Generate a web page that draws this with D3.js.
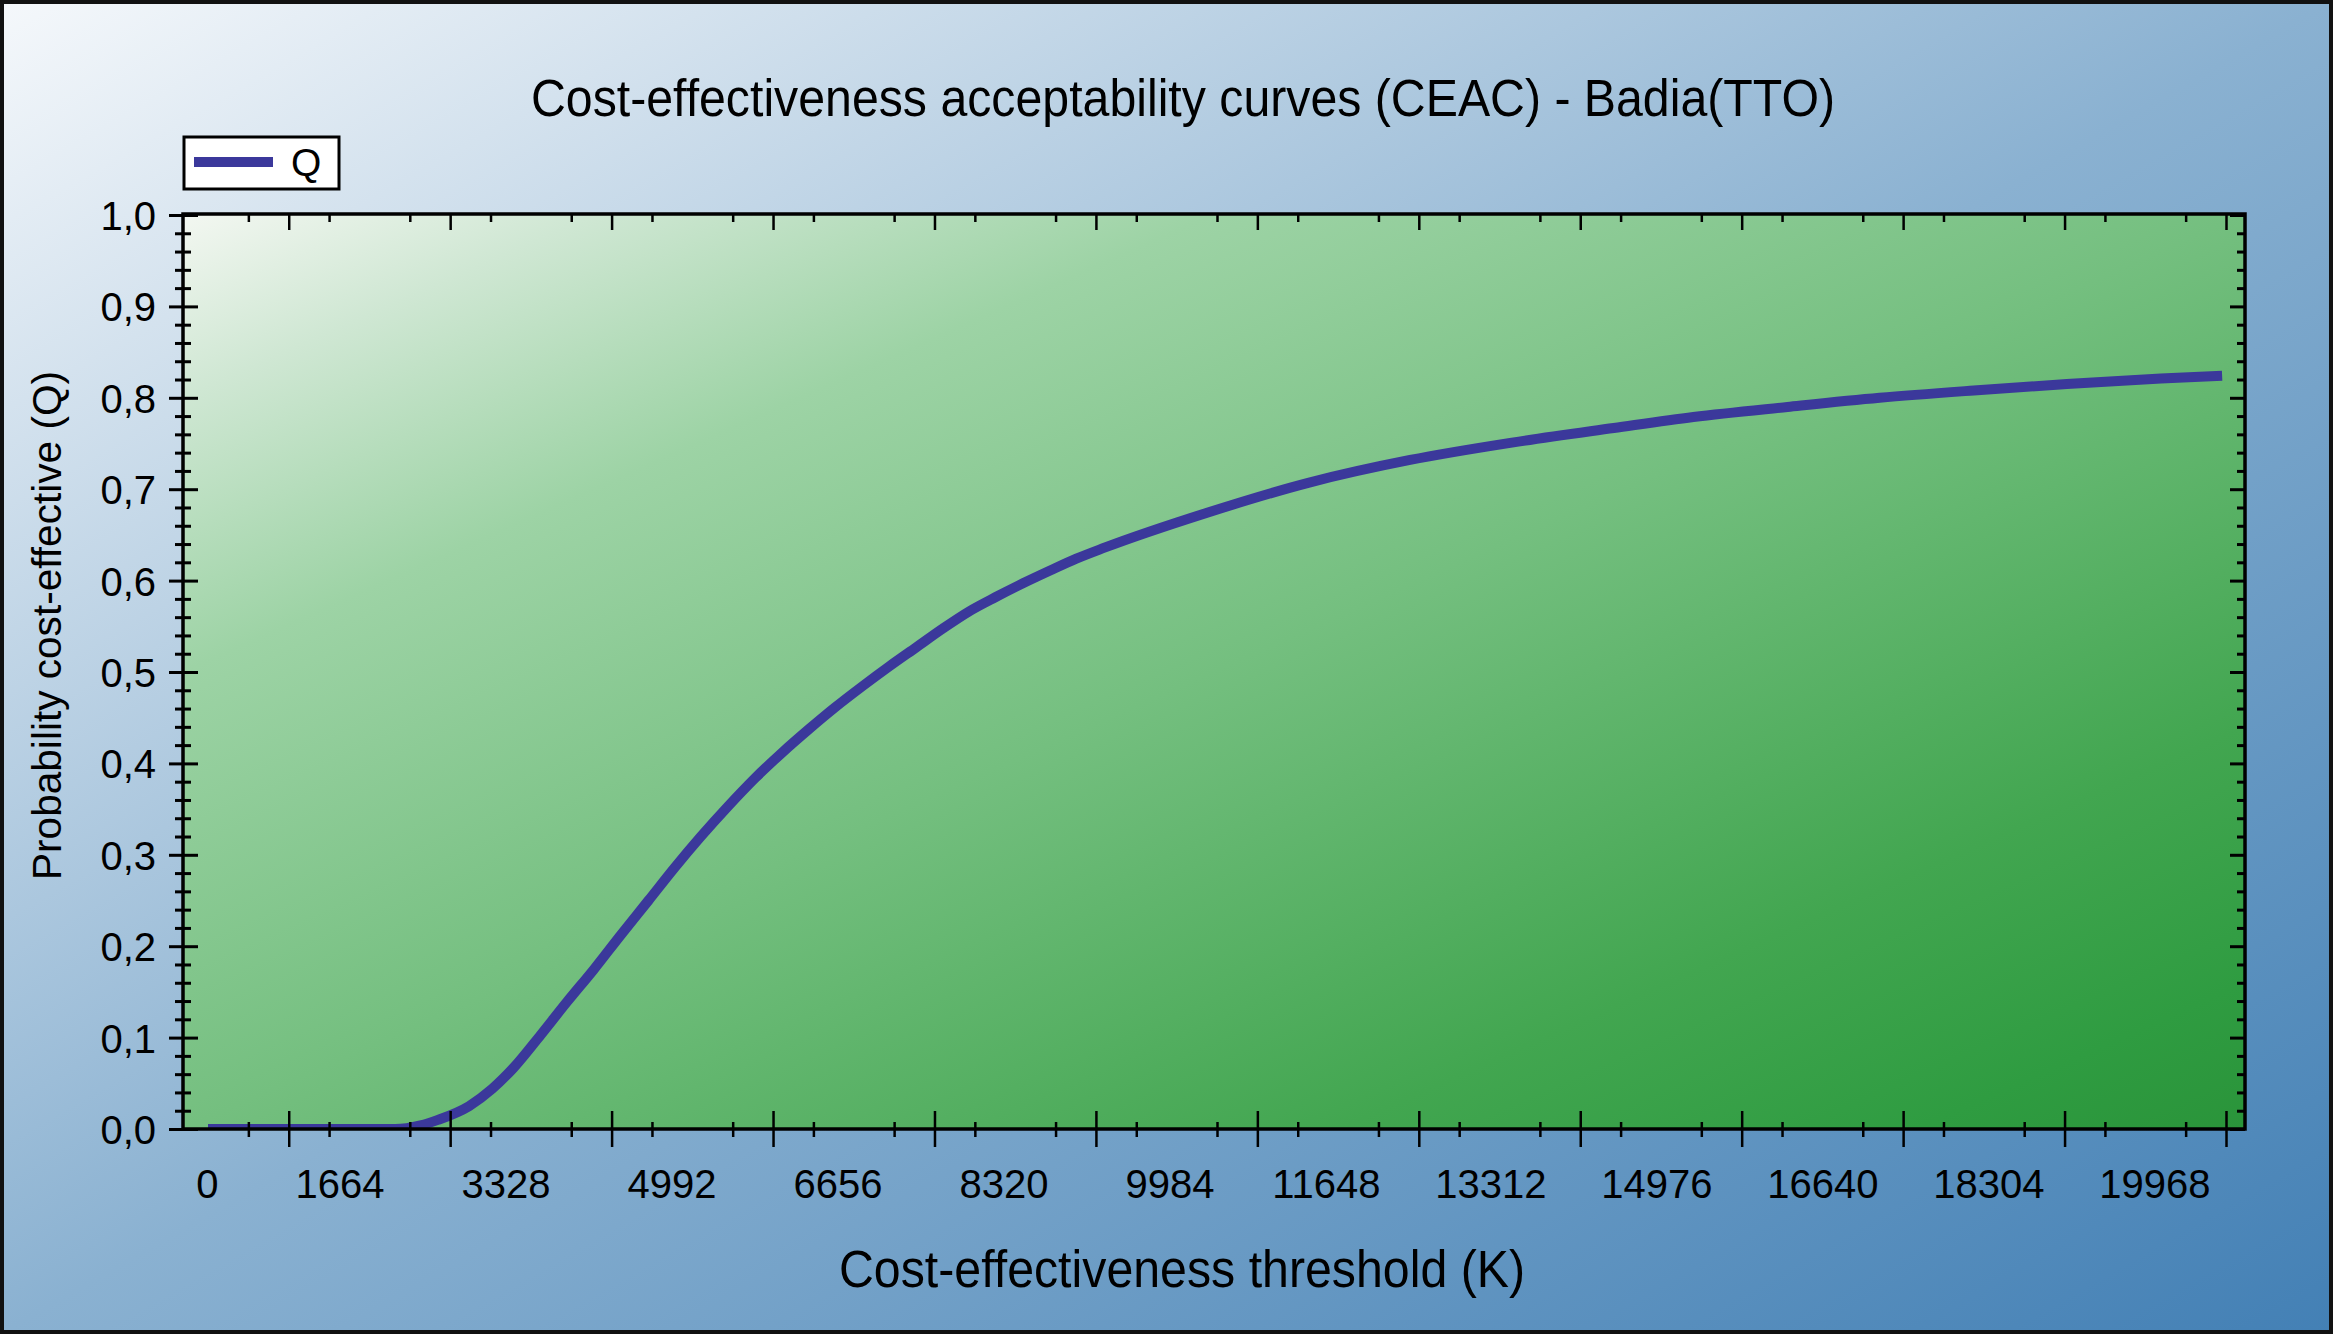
<!DOCTYPE html>
<html>
<head>
<meta charset="utf-8">
<script src="https://d3js.org/d3.v7.min.js"></script>
<style>
  body { margin:0; padding:0; background:#fff; }
  text { font-family: "Liberation Sans", Arial, Helvetica, sans-serif; fill:#000; }
</style>
</head>
<body>
<div id="chart"></div>
<script>
// values
var thresholds = [0, 1930, 2190, 2370, 2690, 2930, 3150, 3430, 3700, 3980,
                  4260, 4540, 4810, 5080, 5360, 5640, 5920, 6200, 6460, 6740,
                  7020, 7300, 7580, 7840, 8120, 8400, 8680, 8950, 9240, 10290,
                  11340, 12390, 13440, 14490, 15310, 16280, 17230, 18200, 19160, 20130,
                  20760];
var probQ = [0, 0, 0.004, 0.010, 0.025, 0.044, 0.067, 0.103, 0.139, 0.175,
             0.213, 0.250, 0.286, 0.320, 0.353, 0.384, 0.412, 0.438, 0.461, 0.484,
             0.506, 0.527, 0.548, 0.566, 0.582, 0.597, 0.611, 0.624, 0.636, 0.674,
             0.707, 0.732, 0.751, 0.767, 0.779, 0.790, 0.800, 0.808, 0.815, 0.821,
             0.824];
var xTickLabels = ["0","1664","3328","4992","6656","8320","9984","11648","13312","14976","16640","18304","19968"];
var xTickValues = [0,1664,3328,4992,6656,8320,9984,11648,13312,14976,16640,18304,19968];
var yTickValues = [0,0.1,0.2,0.3,0.4,0.5,0.6,0.7,0.8,0.9,1.0];
var yTickLabels = ["0,0","0,1","0,2","0,3","0,4","0,5","0,6","0,7","0,8","0,9","1,0"];
var seriesName = "Q";
var lineColor = "#3b389b";

var W = 2333, H = 1334;
var plot = {left:183, right:2245, top:214, bottom:1129};

var svg = d3.select("#chart").append("svg")
  .attr("width", W).attr("height", H);

var defs = svg.append("defs");
var bg = defs.append("linearGradient").attr("id","bg")
  .attr("x1",0).attr("y1",0).attr("x2",1).attr("y2",1);
bg.append("stop").attr("offset",0).attr("stop-color","#f5f8fb");
bg.append("stop").attr("offset",0.5).attr("stop-color","#8ab1d1");
bg.append("stop").attr("offset",1).attr("stop-color","#4380b5");

var pg = defs.append("linearGradient").attr("id","pg")
  .attr("x1",0).attr("y1",0).attr("x2",1).attr("y2",1);
pg.append("stop").attr("offset",0).attr("stop-color","#f3f7f1");
pg.append("stop").attr("offset",0.1).attr("stop-color","#cfe7d3");
pg.append("stop").attr("offset",0.25).attr("stop-color","#9dd3a5");
pg.append("stop").attr("offset",0.5).attr("stop-color","#74bf7f");
pg.append("stop").attr("offset",0.78).attr("stop-color","#42a650");
pg.append("stop").attr("offset",0.92).attr("stop-color","#2f9c41");
pg.append("stop").attr("offset",1).attr("stop-color","#2a943a");

defs.append("clipPath").attr("id","clip")
  .append("rect")
  .attr("x",plot.left).attr("y",plot.top)
  .attr("width",plot.right-plot.left).attr("height",plot.bottom-plot.top);

// background + outer frame
svg.append("rect").attr("x",0).attr("y",0).attr("width",W).attr("height",H)
  .attr("fill","url(#bg)");
svg.append("rect").attr("x",2).attr("y",2).attr("width",W-4).attr("height",H-4)
  .attr("fill","none").attr("stroke","#111").attr("stroke-width",4);

// plot area
svg.append("rect")
  .attr("x",plot.left).attr("y",plot.top)
  .attr("width",plot.right-plot.left).attr("height",plot.bottom-plot.top)
  .attr("fill","url(#pg)");

// scales
var x = d3.scaleLinear().domain([0, 20800]).range([208, 2226]);
var xLab = d3.scaleLinear().domain([0, 19968]).range([218, 2210]);
var y = d3.scaleLinear().domain([0, 1]).range([plot.bottom, 215]);

// curve
var line = d3.line()
  .x(function(d,i){ return x(thresholds[i]); })
  .y(function(d){ return y(d); })
  .curve(d3.curveMonotoneX);

svg.append("path")
  .datum(probQ)
  .attr("clip-path","url(#clip)")
  .attr("fill","none")
  .attr("stroke",lineColor)
  .attr("stroke-width",10)
  .attr("d",line);

// tick positions (majors between labels, minors at quarters)
var xMajor = d3.range(832, 20801, 1664);
var xMinor = d3.range(416, 20801, 832);
var yMinor = d3.range(0, 51).map(function(i){ return i/50; })
  .filter(function(v){ return Math.round(v*50) % 5 != 0; });

function cleanAxis(g){ g.select(".domain").remove(); g.selectAll("text").remove(); }

// bottom ticks (cross the axis)
var gb1 = svg.append("g").attr("transform","translate(0,"+plot.bottom+")")
  .call(d3.axisBottom(x).tickValues(xMajor).tickSize(18)).call(cleanAxis);
gb1.selectAll("line").attr("y1",-18).attr("y2",18).attr("stroke","#000").attr("stroke-width",2.5);
var gb2 = svg.append("g").attr("transform","translate(0,"+plot.bottom+")")
  .call(d3.axisBottom(x).tickValues(xMinor).tickSize(8)).call(cleanAxis);
gb2.selectAll("line").attr("y1",-7).attr("y2",8).attr("stroke","#000").attr("stroke-width",2.5);

// top ticks (inside)
var gt1 = svg.append("g").attr("transform","translate(0,"+plot.top+")")
  .call(d3.axisBottom(x).tickValues(xMajor).tickSize(16)).call(cleanAxis);
gt1.selectAll("line").attr("stroke","#000").attr("stroke-width",2.5);
var gt2 = svg.append("g").attr("transform","translate(0,"+plot.top+")")
  .call(d3.axisBottom(x).tickValues(xMinor).tickSize(8)).call(cleanAxis);
gt2.selectAll("line").attr("stroke","#000").attr("stroke-width",2.5);

// left ticks (cross the axis)
var gl1 = svg.append("g").attr("transform","translate("+plot.left+",0)")
  .call(d3.axisLeft(y).tickValues(yTickValues).tickSize(14)).call(cleanAxis);
gl1.selectAll("line").attr("x1",-14).attr("x2",15).attr("stroke","#000").attr("stroke-width",3);
var gl2 = svg.append("g").attr("transform","translate("+plot.left+",0)")
  .call(d3.axisLeft(y).tickValues(yMinor).tickSize(8)).call(cleanAxis);
gl2.selectAll("line").attr("x1",-8).attr("x2",8).attr("stroke","#000").attr("stroke-width",3);

// right ticks (inside)
var gr1 = svg.append("g").attr("transform","translate("+plot.right+",0)")
  .call(d3.axisLeft(y).tickValues(yTickValues).tickSize(15)).call(cleanAxis);
gr1.selectAll("line").attr("x1",0).attr("x2",-15).attr("stroke","#000").attr("stroke-width",3);
var gr2 = svg.append("g").attr("transform","translate("+plot.right+",0)")
  .call(d3.axisLeft(y).tickValues(yMinor).tickSize(8)).call(cleanAxis);
gr2.selectAll("line").attr("x1",0).attr("x2",-8).attr("stroke","#000").attr("stroke-width",3);

// plot frame
svg.append("rect")
  .attr("x",plot.left).attr("y",plot.top)
  .attr("width",plot.right-plot.left).attr("height",plot.bottom-plot.top)
  .attr("fill","none").attr("stroke","#000").attr("stroke-width",3.5);

// x labels
var gxl = svg.append("g").attr("transform","translate(0,"+plot.bottom+")")
  .call(d3.axisBottom(xLab).tickValues(xTickValues)
    .tickFormat(function(d,i){ return xTickLabels[i]; }).tickSize(0));
gxl.select(".domain").remove();
gxl.selectAll("text")
  .attr("y",69).attr("dy",0)
  .attr("text-anchor","end")
  .style("font-size","40px")
  .style("font-family","'Liberation Sans', Arial, sans-serif")
  .attr("fill","#000");

// y labels
var gyl = svg.append("g").attr("transform","translate(156,0)")
  .call(d3.axisLeft(y).tickValues(yTickValues)
    .tickFormat(function(d,i){ return yTickLabels[i]; }).tickSize(0).tickPadding(0));
gyl.select(".domain").remove();
gyl.selectAll("text")
  .attr("x",0).attr("dy","0.36em")
  .attr("text-anchor","end")
  .style("font-size","40px")
  .style("font-family","'Liberation Sans', Arial, sans-serif")
  .attr("fill","#000");

// titles
svg.append("text")
  .attr("x",531).attr("y",116)
  .attr("textLength",1304).attr("lengthAdjust","spacingAndGlyphs")
  .style("font-size","51px")
  .text("Cost-effectiveness acceptability curves (CEAC) - Badia(TTO)");

svg.append("text")
  .attr("x",839).attr("y",1287)
  .attr("textLength",686).attr("lengthAdjust","spacingAndGlyphs")
  .style("font-size","51px")
  .text("Cost-effectiveness threshold (K)");

svg.append("text")
  .attr("transform","translate(61,880) rotate(-90)")
  .attr("textLength",509).attr("lengthAdjust","spacingAndGlyphs")
  .style("font-size","40px")
  .text("Probability cost-effective (Q)");

// legend
var lg = svg.append("g");
lg.append("rect").attr("x",184).attr("y",137).attr("width",155).attr("height",52)
  .attr("fill","#fff").attr("stroke","#000").attr("stroke-width",3);
lg.append("line").attr("x1",194).attr("x2",273).attr("y1",162).attr("y2",162)
  .attr("stroke",lineColor).attr("stroke-width",10);
lg.append("text").attr("x",291).attr("y",176)
  .style("font-size","39px").text(seriesName);
</script>
</body>
</html>
